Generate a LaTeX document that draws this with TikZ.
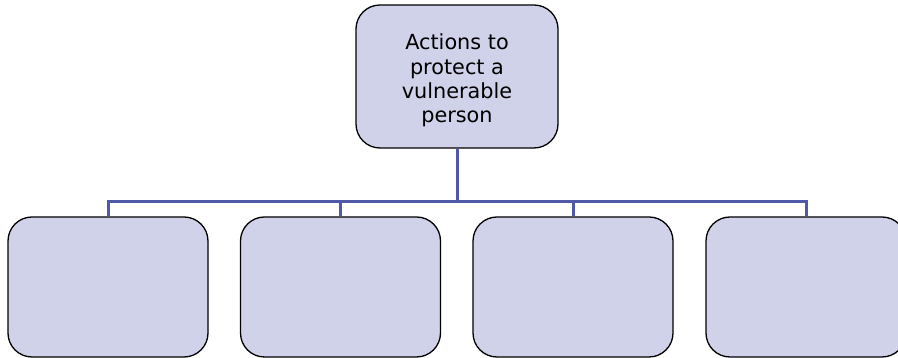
\documentclass[tikz,border=0pt]{standalone}
\usepackage{fontspec}
\setmainfont{DejaVu Sans}
\begin{document}
\definecolor{boxfill}{RGB}{208,210,233}
\definecolor{linkblue}{RGB}{80,88,168}
\begin{tikzpicture}[x=1pt,y=1pt,
  orgbox/.style={draw=black, line width=1.3pt, fill=boxfill, rounded corners=24pt,
    minimum width=200pt, minimum height=140pt, inner sep=0pt},
  headbox/.style={orgbox, minimum width=202pt, minimum height=143pt},
  headtext/.style={align=center, inner sep=0pt, font=\fontsize{20.8}{24.3}\selectfont},
  conn/.style={draw=linkblue, line width=3pt}]
  \useasboundingbox (0,0) rectangle (898,358);
  % head of the chart
  \node[headbox] (top) at (457,281.5) {};
  \node[headtext] (toptext) at ([yshift=-4pt]top.center) {Actions to\\protect a\\vulnerable\\person};
  % four empty child boxes
  \node[orgbox] (b1) at (108,71) {};
  \node[orgbox] (b2) at (340.5,71) {};
  \node[orgbox] (b3) at (573,71) {};
  \node[orgbox] (b4) at (806,71) {};
  % branching connectors
  \coordinate (bus) at (457,156);
  \draw[conn] (top.south) -- (bus);
  \draw[conn] (bus) -| (b1.north);
  \draw[conn] (bus) -| (b2.north);
  \draw[conn] (bus) -| (b3.north);
  \draw[conn] (bus) -| (b4.north);
\end{tikzpicture}
\end{document}
